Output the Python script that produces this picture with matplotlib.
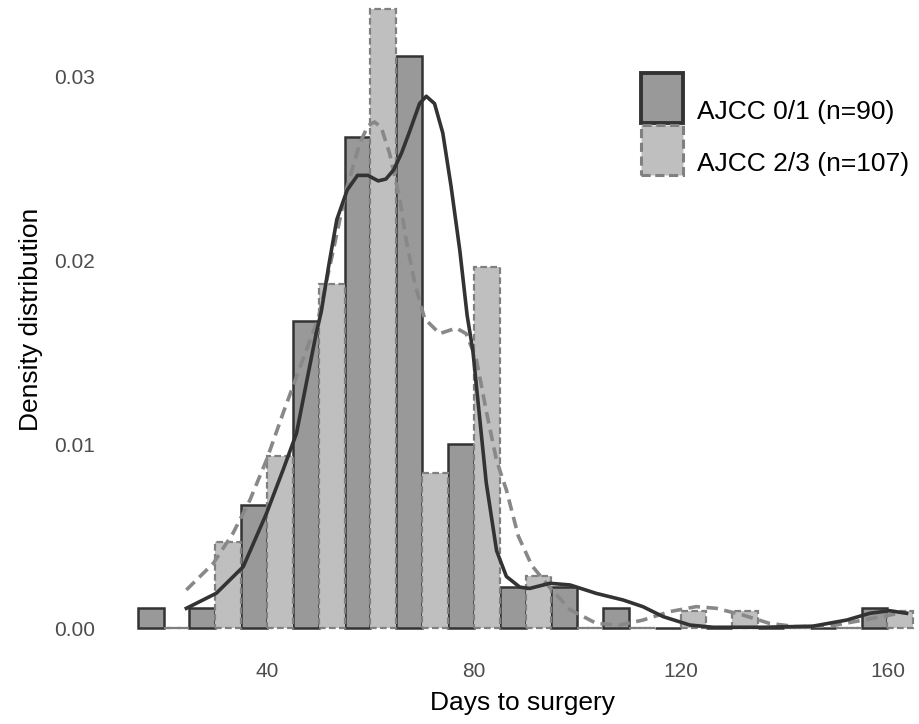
import numpy as np
import matplotlib
matplotlib.use('Agg')
import matplotlib.pyplot as plt
from matplotlib.patches import Rectangle

plt.rcParams['font.family'] = ['Liberation Sans', 'DejaVu Sans']

# histogram bins (width 10, centred on these values)
bin_centers = [20, 30, 40, 50, 60, 70, 80, 90, 100, 110, 120, 130, 140, 150, 160]
bin_width = 10
counts_01 = [1, 1, 6, 15, 24, 28, 9, 2, 2, 1, 0, 0, 0, 0, 1]
counts_23 = [0, 5, 10, 20, 36, 9, 21, 3, 0, 0, 1, 1, 0, 0, 1]
n_01 = 90
n_23 = 107

# density curves
kde_x_01 = [24.4, 30.2, 35.4, 39.9, 43.1, 45.7, 47.6, 49.5, 50.5, 52.0, 53.5, 55.5,
            57.5, 59.5, 61.5, 63.0, 64.5, 66.0, 67.6, 69.5, 70.8, 72.4, 74.0, 75.6,
            77.3, 78.7, 79.8, 81.1, 82.4, 84.4, 86.3, 88.9, 90.8, 94.7, 98.6, 103.7,
            108.9, 112.7, 116.6, 121.8, 126.3, 135.9, 145.6, 152.1, 156.6, 160.4, 163.7]
kde_y_01 = [0.00107, 0.00189, 0.00333, 0.00623, 0.00859, 0.01058, 0.0133, 0.0160, 0.0172,
            0.0198, 0.0222, 0.0238, 0.0246, 0.0246, 0.0243, 0.0244, 0.0249, 0.0258, 0.0270,
            0.0285, 0.0289, 0.0285, 0.0269, 0.0240, 0.0205, 0.0170, 0.0151, 0.0115, 0.0079,
            0.0042, 0.0028, 0.00222, 0.00215, 0.00243, 0.00234, 0.00188, 0.00152, 0.00116,
            0.00062, 0.00016, 0.00004, 0.00004, 0.0001, 0.00043, 0.0008, 0.00094, 0.0008]
kde_x_23 = [24.4, 29.6, 33.4, 36.7, 39.9, 43.1, 45.7, 47.6, 49.9, 52.8, 55.3, 57.9,
            59.5, 60.8, 62.1, 63.7, 65.7, 66.9, 68.6, 70.5, 73.4, 76.6, 78.5, 80.5,
            82.4, 84.4, 86.3, 88.6, 91.2, 94.7, 98.6, 103.7, 108.2, 112.7, 117.9, 123.0,
            126.9, 132.1, 137.2, 142.4, 148.8, 155.3, 160.4, 163.7]
kde_y_23 = [0.00207, 0.00351, 0.00514, 0.00696, 0.00913, 0.01167, 0.01366, 0.0151, 0.0168,
            0.0205, 0.0238, 0.0263, 0.0273, 0.0275, 0.0272, 0.0258, 0.0233, 0.0211, 0.0187,
            0.0168, 0.0160, 0.0163, 0.0160, 0.0146, 0.0118, 0.0091, 0.0075, 0.0050, 0.0034,
            0.0022, 0.0010, 0.00025, 0.00016, 0.00043, 0.00089, 0.00116, 0.00107, 0.0007,
            0.00025, 0.00007, 0.0001, 0.00043, 0.0007, 0.00089]

labels = ['AJCC 0/1 (n=90)', 'AJCC 2/3 (n=107)']

dark_fill, dark_edge = '#999999', '#333333'
light_fill, light_edge = '#bfbfbf', '#808080'

fig = plt.figure(figsize=(9.2, 7.24), dpi=100)
ax = fig.add_axes([99 / 920, 65 / 724, 821 / 920, 659 / 724])

centers = np.array(bin_centers)
dens_01 = np.array(counts_01) / (n_01 * bin_width)
dens_23 = np.array(counts_23) / (n_23 * bin_width)
half = bin_width / 2

ax.bar(centers - half / 2, dens_01, width=half, color=dark_fill, edgecolor=dark_edge,
       linewidth=1.8, zorder=2)
ax.bar(centers + half / 2, dens_23, width=half, color=light_fill, edgecolor=light_edge,
       linewidth=1.6, linestyle=(0, (3, 1.5)), zorder=2)

ax.plot(kde_x_23, kde_y_23, color='#888888', lw=2.6, ls=(0, (3.2, 1.8)), zorder=3)
ax.plot(kde_x_01, kde_y_01, color='#333333', lw=2.6, zorder=4)

ax.set_xlim(7.5, 7.5 + 821 / 5.17)
ax.set_ylim(-31 / 18400, 628 / 18400)
ax.set_xticks([40, 80, 120, 160])
ax.set_yticks([0.0, 0.01, 0.02, 0.03])
ax.set_yticklabels(['0.00', '0.01', '0.02', '0.03'])
for s in ax.spines.values():
    s.set_visible(False)
ax.tick_params(length=0, labelsize=15, colors='#4d4d4d')
ax.tick_params(axis='x', pad=2)
ax.tick_params(axis='y', pad=3)
ax.set_xlabel('Days to surgery', fontsize=19)
ax.set_ylabel('Density distribution', fontsize=19, labelpad=8)
# ggplot centres the titles on the full (cropped) panel
ax.xaxis.set_label_coords((522 - 99) / 821, -0.048)
ax.yaxis.label.set_y((659 - 319) / 659)

# legend keys
fig.add_artist(Rectangle((641 / 920, 1 - 123 / 724), 42 / 920, 50 / 724,
                         transform=fig.transFigure, facecolor=dark_fill,
                         edgecolor=dark_edge, linewidth=2.8))
fig.add_artist(Rectangle((641 / 920, 1 - 175 / 724), 42 / 920, 50 / 724,
                         transform=fig.transFigure, facecolor=light_fill,
                         edgecolor=light_edge, linewidth=2.2, linestyle=(0, (3, 1.5))))
fig.text(697 / 920, 1 - 112 / 724, labels[0], fontsize=19, va='center', ha='left')
fig.text(697 / 920, 1 - 164 / 724, labels[1], fontsize=19, va='center', ha='left')

fig.savefig('out.png', dpi=100)
